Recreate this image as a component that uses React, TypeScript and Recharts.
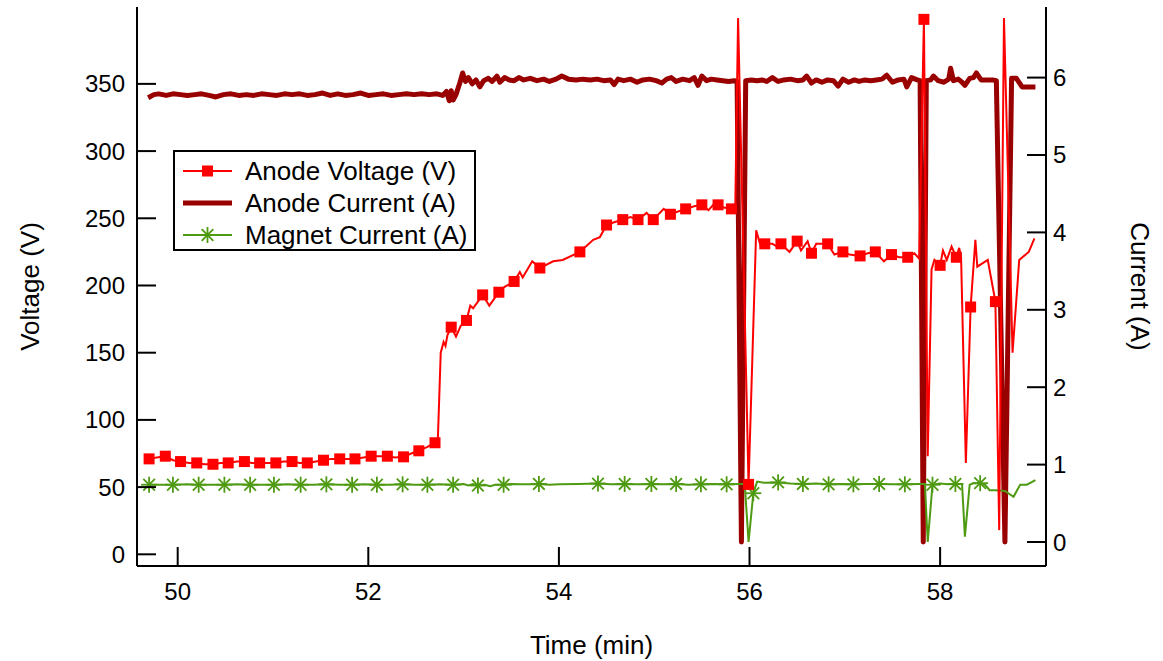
import { ComposedChart, Line, Scatter, XAxis, YAxis, Legend } from "recharts";

const FONT = '"Liberation Sans", Arial, Helvetica, sans-serif';
const RED = "#ff0000";
const DARK_RED = "#990000";
const GREEN = "#4e9a12";

const timeTicks = [50, 52, 54, 56, 58];
const voltageTicks = [0, 50, 100, 150, 200, 250, 300, 350];
const currentTicks = [0, 1, 2, 3, 4, 5, 6];

// [time (min), value]
const anodeVoltage = [
  [49.7, 71], [49.78, 72], [49.87, 73], [49.95, 70], [50.03, 69], [50.12, 68], [50.2, 68], [50.28, 67],
  [50.37, 67], [50.45, 68], [50.53, 68], [50.62, 69], [50.7, 69], [50.78, 68], [50.86, 68], [50.95, 68],
  [51.03, 68], [51.11, 69], [51.2, 69], [51.28, 68], [51.36, 68], [51.45, 69], [51.53, 70], [51.61, 71],
  [51.7, 71], [51.78, 71], [51.86, 71], [51.95, 72], [52.03, 73], [52.11, 73], [52.2, 73], [52.28, 72],
  [52.37, 72.5], [52.45, 75], [52.53, 77], [52.62, 80], [52.7, 83], [52.73, 86], [52.76, 150], [52.79, 158],
  [52.81, 155], [52.83, 163], [52.87, 169], [52.92, 162], [52.97, 170], [53.03, 174], [53.07, 185], [53.1, 183],
  [53.15, 188], [53.2, 193], [53.27, 185], [53.37, 195], [53.43, 199], [53.53, 203], [53.59, 210], [53.62, 206],
  [53.72, 218], [53.8, 213], [53.94, 218], [54.04, 219], [54.22, 225], [54.36, 234], [54.43, 236], [54.5, 245],
  [54.58, 247], [54.67, 249], [54.75, 251], [54.83, 249], [54.92, 254], [54.99, 249], [55.1, 257], [55.17, 253],
  [55.25, 255], [55.33, 257], [55.42, 259], [55.5, 260], [55.57, 256], [55.62, 260], [55.67, 260], [55.73, 258],
  [55.81, 257], [55.85, 256], [55.88, 399], [55.99, 52], [56.07, 241], [56.11, 231], [56.16, 231], [56.24, 231],
  [56.29, 229], [56.33, 231], [56.42, 225], [56.5, 233], [56.54, 226], [56.61, 233], [56.65, 224], [56.7, 231],
  [56.82, 231], [56.89, 223], [56.98, 225], [57.05, 223], [57.16, 222], [57.24, 224], [57.32, 225], [57.41, 218],
  [57.49, 223], [57.57, 221], [57.66, 221], [57.73, 224], [57.78, 220], [57.83, 398], [57.87, 73], [57.91, 212],
  [57.94, 219], [58.0, 215], [58.03, 226], [58.07, 219], [58.12, 229], [58.17, 221], [58.2, 228], [58.22, 221],
  [58.27, 68], [58.32, 184], [58.37, 234], [58.39, 214], [58.5, 219], [58.58, 188], [58.62, 18], [58.67, 399],
  [58.76, 150], [58.83, 219], [58.93, 225], [58.99, 235],
];

const anodeVoltageMarkers = [
  [49.7, 71], [49.87, 73], [50.03, 69], [50.2, 68], [50.37, 67], [50.53, 68], [50.7, 69], [50.86, 68],
  [51.03, 68], [51.2, 69], [51.36, 68], [51.53, 70], [51.7, 71], [51.86, 71], [52.03, 73], [52.2, 73],
  [52.37, 72.5], [52.53, 77], [52.7, 83], [52.87, 169], [53.03, 174], [53.2, 193], [53.37, 195], [53.53, 203],
  [53.8, 213], [54.22, 225], [54.5, 245], [54.67, 249], [54.83, 249], [54.99, 249], [55.17, 253], [55.33, 257],
  [55.5, 260], [55.67, 260], [55.81, 257], [55.99, 52], [56.16, 231], [56.33, 231], [56.5, 233], [56.65, 224],
  [56.82, 231], [56.98, 225], [57.16, 222], [57.32, 225], [57.49, 223], [57.66, 221], [57.83, 398], [58.0, 215],
  [58.17, 221], [58.32, 184], [58.58, 188],
];

const anodeCurrent = [
  [49.69, 5.74], [49.75, 5.78], [49.8, 5.79], [49.88, 5.77], [49.95, 5.79], [50.03, 5.78], [50.1, 5.77], [50.18, 5.78],
  [50.25, 5.79], [50.33, 5.77], [50.4, 5.75], [50.48, 5.78], [50.56, 5.79], [50.64, 5.77], [50.72, 5.78], [50.8, 5.77],
  [50.88, 5.79], [50.96, 5.78], [51.04, 5.77], [51.12, 5.79], [51.2, 5.78], [51.28, 5.79], [51.36, 5.77], [51.44, 5.78],
  [51.52, 5.8], [51.6, 5.77], [51.68, 5.79], [51.76, 5.77], [51.84, 5.78], [51.92, 5.8], [52.0, 5.77], [52.08, 5.78],
  [52.16, 5.79], [52.24, 5.77], [52.32, 5.78], [52.4, 5.79], [52.48, 5.78], [52.56, 5.79], [52.64, 5.78], [52.72, 5.79],
  [52.78, 5.77], [52.82, 5.82], [52.85, 5.7], [52.87, 5.83], [52.89, 5.71], [52.92, 5.78], [52.96, 5.93], [52.99, 6.06],
  [53.02, 5.95], [53.05, 6.0], [53.09, 5.92], [53.13, 5.97], [53.17, 5.88], [53.21, 5.96], [53.26, 5.99], [53.3, 5.95],
  [53.35, 6.02], [53.38, 5.94], [53.43, 6.0], [53.48, 5.97], [53.53, 5.96], [53.58, 6.0], [53.63, 5.97], [53.7, 5.99],
  [53.77, 5.96], [53.84, 5.98], [53.9, 5.95], [53.97, 5.98], [54.03, 6.02], [54.1, 5.98], [54.18, 5.97], [54.25, 5.98],
  [54.33, 5.97], [54.4, 5.98], [54.47, 5.96], [54.54, 5.97], [54.58, 5.91], [54.62, 5.98], [54.68, 5.96], [54.75, 5.98],
  [54.82, 5.94], [54.88, 5.97], [54.95, 5.98], [55.02, 5.96], [55.08, 5.93], [55.13, 5.98], [55.18, 6.0], [55.23, 5.95],
  [55.3, 5.98], [55.37, 5.96], [55.42, 6.0], [55.46, 5.9], [55.5, 6.02], [55.55, 5.96], [55.6, 5.98], [55.66, 5.97],
  [55.72, 5.96], [55.78, 5.95], [55.84, 5.96], [55.87, 5.95], [55.915, 0], [55.96, 5.96], [56.02, 5.97], [56.08, 5.96],
  [56.13, 5.97], [56.18, 5.95], [56.24, 6.0], [56.3, 5.95], [56.36, 5.97], [56.43, 5.98], [56.5, 5.96], [56.56, 5.97],
  [56.6, 6.02], [56.65, 5.93], [56.7, 5.97], [56.76, 5.94], [56.82, 5.97], [56.88, 5.96], [56.93, 5.89], [56.98, 5.98],
  [57.04, 5.94], [57.1, 5.97], [57.15, 5.95], [57.21, 5.97], [57.27, 5.96], [57.33, 5.97], [57.39, 5.98], [57.44, 6.03],
  [57.5, 5.94], [57.56, 5.97], [57.62, 5.98], [57.65, 5.88], [57.7, 6.0], [57.76, 5.97], [57.79, 5.96], [57.823, 0],
  [57.855, 5.96], [57.9, 5.97], [57.93, 6.02], [57.98, 5.96], [58.04, 5.94], [58.09, 5.98], [58.11, 6.12], [58.14, 5.96],
  [58.19, 5.98], [58.23, 5.94], [58.26, 5.9], [58.31, 5.99], [58.35, 6.0], [58.38, 6.06], [58.43, 5.97], [58.49, 5.97],
  [58.55, 5.97], [58.59, 5.96], [58.68, 0], [58.75, 5.99], [58.8, 5.99], [58.86, 5.88], [58.95, 5.88], [59.0, 5.88],
];

const magnetCurrent = [
  [49.7, 0.74], [49.85, 0.74], [49.95, 0.74], [50.1, 0.745], [50.22, 0.74], [50.35, 0.74], [50.49, 0.74], [50.62, 0.745],
  [50.76, 0.74], [50.9, 0.74], [51.01, 0.74], [51.15, 0.745], [51.29, 0.74], [51.42, 0.74], [51.56, 0.745], [51.7, 0.74],
  [51.83, 0.74], [51.96, 0.745], [52.09, 0.74], [52.22, 0.74], [52.36, 0.745], [52.49, 0.74], [52.62, 0.74], [52.75, 0.745],
  [52.89, 0.74], [53.0, 0.75], [53.05, 0.73], [53.1, 0.75], [53.15, 0.73], [53.22, 0.74], [53.28, 0.72], [53.33, 0.74],
  [53.42, 0.74], [53.5, 0.75], [53.6, 0.745], [53.7, 0.745], [53.79, 0.75], [53.9, 0.74], [54.0, 0.745], [54.2, 0.75],
  [54.41, 0.755], [54.55, 0.745], [54.69, 0.75], [54.83, 0.745], [54.97, 0.75], [55.1, 0.745], [55.23, 0.75], [55.36, 0.74],
  [55.49, 0.745], [55.62, 0.75], [55.76, 0.745], [55.9, 0.75], [55.95, 0.75], [55.99, 0], [56.04, 0.63], [56.08, 0.78],
  [56.15, 0.765], [56.3, 0.77], [56.43, 0.755], [56.56, 0.75], [56.7, 0.755], [56.83, 0.745], [56.96, 0.75], [57.09, 0.745],
  [57.22, 0.75], [57.36, 0.75], [57.5, 0.745], [57.63, 0.745], [57.78, 0.75], [57.84, 0.75], [57.87, 0], [57.92, 0.74],
  [58.0, 0.755], [58.08, 0.745], [58.16, 0.75], [58.23, 0.75], [58.26, 0.07], [58.31, 0.74], [58.35, 0.76], [58.42, 0.76],
  [58.47, 0.74], [58.52, 0.67], [58.58, 0.67], [58.68, 0.66], [58.77, 0.585], [58.84, 0.74], [58.91, 0.74], [59.0, 0.8],
];

const magnetCurrentMarkers = [
  [49.7, 0.74], [49.95, 0.74], [50.22, 0.74], [50.49, 0.74], [50.76, 0.74], [51.01, 0.74], [51.29, 0.74], [51.56, 0.745],
  [51.83, 0.74], [52.09, 0.74], [52.36, 0.745], [52.62, 0.74], [52.89, 0.74], [53.15, 0.73], [53.42, 0.74], [53.79, 0.75],
  [54.41, 0.755], [54.69, 0.75], [54.97, 0.75], [55.23, 0.75], [55.49, 0.745], [55.76, 0.745], [56.04, 0.63], [56.3, 0.77],
  [56.56, 0.75], [56.83, 0.745], [57.09, 0.745], [57.36, 0.75], [57.63, 0.745], [57.92, 0.74], [58.16, 0.75], [58.42, 0.76],
];

const toPoints = (pairs: number[][]) => pairs.map(([t, y]) => ({ t, y }));

const legendItems = [
  { name: "Anode Voltage (V)", color: RED, width: 2, marker: "square" },
  { name: "Anode Current (A)", color: DARK_RED, width: 5, marker: "none" },
  { name: "Magnet Current (A)", color: GREEN, width: 2, marker: "star" },
];

function SquareMark({ cx, cy }: any) {
  if (cx == null || cy == null) return null;
  return <rect x={cx - 5.5} y={cy - 5.5} width={11} height={11} fill={RED} />;
}

function StarMark({ cx, cy }: any) {
  if (cx == null || cy == null) return null;
  return (
    <g stroke={GREEN} strokeWidth={1.8}>
      <line x1={cx - 8} y1={cy} x2={cx + 8} y2={cy} />
      <line x1={cx} y1={cy - 8} x2={cx} y2={cy + 8} />
      <line x1={cx - 5.8} y1={cy - 5.8} x2={cx + 5.8} y2={cy + 5.8} />
      <line x1={cx - 5.8} y1={cy + 5.8} x2={cx + 5.8} y2={cy - 5.8} />
    </g>
  );
}

function BottomTick({ x, y, payload }: any) {
  return (
    <g>
      <line x1={x} y1={y} x2={x} y2={y - 19} stroke="#000" strokeWidth={2} />
      <text x={x} y={y + 25} textAnchor="middle" dominantBaseline="central" fontSize={24} fontFamily={FONT} fill="#000">
        {payload.value}
      </text>
    </g>
  );
}

function TopTick({ x, y }: any) {
  return <line x1={x} y1={y} x2={x} y2={y + 19} stroke="#000" strokeWidth={2} />;
}

function LeftTick({ x, y, payload }: any) {
  return (
    <g>
      <line x1={x} y1={y} x2={x + 19} y2={y} stroke="#000" strokeWidth={2} />
      <text x={x - 12} y={y} textAnchor="end" dominantBaseline="central" fontSize={24} fontFamily={FONT} fill="#000">
        {payload.value}
      </text>
    </g>
  );
}

function RightTick({ x, y, payload }: any) {
  return (
    <g>
      <line x1={x} y1={y} x2={x - 19} y2={y} stroke="#000" strokeWidth={2} />
      <text x={x + 7} y={y} textAnchor="start" dominantBaseline="central" fontSize={24} fontFamily={FONT} fill="#000">
        {payload.value}
      </text>
    </g>
  );
}

function AxisTitle({ viewBox, text, side }: any) {
  if (!viewBox) return null;
  const { x, y, width, height } = viewBox;
  let cx = x + width / 2;
  let cy = y + height / 2;
  let angle = 0;
  if (side === "left") {
    cx = x + 30;
    angle = -90;
  } else if (side === "right") {
    cx = x + 94;
    angle = 90;
  } else {
    cy = y + 79;
  }
  return (
    <text
      x={cx}
      y={cy}
      transform={`rotate(${angle} ${cx} ${cy})`}
      textAnchor="middle"
      dominantBaseline="central"
      fontSize={26}
      fontFamily={FONT}
      fill="#000"
    >
      {text}
    </text>
  );
}

function LegendBox() {
  return (
    <div
      style={{
        boxSizing: "border-box",
        width: 303,
        height: 101,
        border: "2px solid #000",
        background: "#fff",
        padding: "3px 8px",
        fontFamily: FONT,
      }}
    >
      {legendItems.map((item) => (
        <div key={item.name} style={{ display: "flex", alignItems: "center", height: 32 }}>
          <svg width={49} height={20} style={{ flex: "none" }}>
            <line x1={0} y1={10} x2={49} y2={10} stroke={item.color} strokeWidth={item.width} />
            {item.marker === "square" && <SquareMark cx={24.5} cy={10} />}
            {item.marker === "star" && <StarMark cx={24.5} cy={10} />}
          </svg>
          <span style={{ fontSize: 26, marginLeft: 13, color: "#000", whiteSpace: "nowrap" }}>{item.name}</span>
        </div>
      ))}
    </div>
  );
}

export default function App() {
  return (
    <>
      <style>{"body{margin:0;background:#fff}"}</style>
      <ComposedChart width={1163} height={661} margin={{ top: 7, right: 0, bottom: 0, left: 0 }}>
        <XAxis
          dataKey="t"
          type="number"
          domain={[49.573, 59.111]}
          ticks={timeTicks}
          allowDataOverflow
          height={95}
          tickSize={0}
          tickMargin={0}
          tickLine={false}
          axisLine={{ stroke: "#000", strokeWidth: 2 }}
          tick={<BottomTick />}
          label={<AxisTitle text="Time (min)" side="bottom" />}
        />
        <XAxis
          xAxisId="top"
          orientation="top"
          type="number"
          domain={[49.573, 59.111]}
          ticks={timeTicks}
          allowDataOverflow
          height={0}
          tickSize={0}
          tickMargin={0}
          tickLine={false}
          axisLine={{ stroke: "#000", strokeWidth: 2 }}
          tick={<TopTick />}
        />
        <YAxis
          yAxisId="v"
          type="number"
          domain={[-8.7, 407.2]}
          ticks={voltageTicks}
          allowDataOverflow
          width={137}
          tickSize={0}
          tickMargin={0}
          tickLine={false}
          axisLine={{ stroke: "#000", strokeWidth: 2 }}
          tick={<LeftTick />}
          label={<AxisTitle text="Voltage (V)" side="left" />}
        />
        <YAxis
          yAxisId="a"
          orientation="right"
          type="number"
          domain={[-0.31, 6.912]}
          ticks={currentTicks}
          allowDataOverflow
          width={117}
          tickSize={0}
          tickMargin={0}
          tickLine={false}
          axisLine={{ stroke: "#000", strokeWidth: 2 }}
          tick={<RightTick />}
          label={<AxisTitle text="Current (A)" side="right" />}
        />
        <Legend
          layout="vertical"
          align="center"
          verticalAlign="middle"
          wrapperStyle={{ left: 173, top: 150, width: 303, height: 101 }}
          content={<LegendBox />}
        />
        <Line
          yAxisId="a"
          data={toPoints(anodeCurrent)}
          dataKey="y"
          name="Anode Current (A)"
          type="linear"
          stroke={DARK_RED}
          strokeWidth={5}
          strokeLinejoin="round"
          dot={false}
          activeDot={false}
          isAnimationActive={false}
        />
        <Line
          yAxisId="a"
          data={toPoints(magnetCurrent)}
          dataKey="y"
          name="Magnet Current (A)"
          type="linear"
          stroke={GREEN}
          strokeWidth={2}
          dot={false}
          activeDot={false}
          isAnimationActive={false}
        />
        <Scatter
          yAxisId="a"
          data={toPoints(magnetCurrentMarkers)}
          dataKey="y"
          shape={<StarMark />}
          isAnimationActive={false}
        />
        <Line
          yAxisId="v"
          data={toPoints(anodeVoltage)}
          dataKey="y"
          name="Anode Voltage (V)"
          type="linear"
          stroke={RED}
          strokeWidth={2}
          dot={false}
          activeDot={false}
          isAnimationActive={false}
        />
        <Scatter
          yAxisId="v"
          data={toPoints(anodeVoltageMarkers)}
          dataKey="y"
          shape={<SquareMark />}
          isAnimationActive={false}
        />
      </ComposedChart>
    </>
  );
}
